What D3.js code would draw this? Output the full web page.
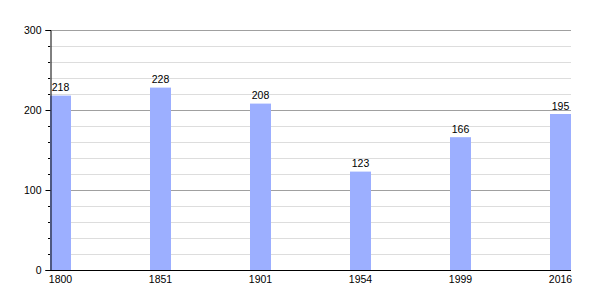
<!DOCTYPE html>
<html>
<head>
<meta charset="utf-8">
<script src="https://cdn.jsdelivr.net/npm/d3@7"></script>
<style>
  body { margin: 0; background: #fff; }
  text { font-family: "Liberation Sans", Arial, sans-serif; }
</style>
</head>
<body>
<div id="chart"></div>
<script>
const years = ["1800", "1851", "1901", "1954", "1999", "2016"];
const population = [218, 228, 208, 123, 166, 195];
const majorTicks = [0, 100, 200, 300];
const minorTicks = d3.range(0, 301, 20);

const width = 600, height = 300;
const plotLeft = 50, plotRight = 571, plotTop = 30, plotBottom = 270;
const barWidth = 21;

const svg = d3.select("#chart")
  .append("svg")
  .attr("width", width)
  .attr("height", height);

const x = d3.scalePoint()
  .domain(years)
  .range([plotLeft, plotRight - barWidth]);

const y = d3.scaleLinear()
  .domain([0, 300])
  .range([plotBottom, plotTop]);

// minor gridlines
svg.append("g")
  .selectAll("line")
  .data(minorTicks.filter(d => d % 100 !== 0))
  .join("line")
  .attr("x1", plotLeft).attr("x2", plotRight)
  .attr("y1", d => y(d) + 0.5).attr("y2", d => y(d) + 0.5)
  .attr("stroke", "#dddddd");

// major gridlines
svg.append("g")
  .selectAll("line")
  .data(majorTicks.filter(d => d > 0))
  .join("line")
  .attr("x1", plotLeft).attr("x2", plotRight)
  .attr("y1", d => y(d) + 0.5).attr("y2", d => y(d) + 0.5)
  .attr("stroke", "#a0a0a0");

// bars
svg.append("g")
  .selectAll("rect")
  .data(years)
  .join("rect")
  .attr("x", d => x(d))
  .attr("y", (d, i) => y(population[i]))
  .attr("width", barWidth)
  .attr("height", (d, i) => plotBottom - y(population[i]))
  .attr("fill", "#9cafff");

// value labels
svg.append("g")
  .selectAll("text")
  .data(years)
  .join("text")
  .attr("x", d => x(d) + barWidth / 2)
  .attr("y", (d, i) => y(population[i]) - 4.5)
  .attr("text-anchor", "middle")
  .style("font-size", "10.5px")
  .text((d, i) => population[i]);

// y axis
const yAxis = svg.append("g")
  .attr("transform", `translate(${plotLeft + 0.5},0)`)
  .call(d3.axisLeft(y).tickValues(majorTicks).tickSize(5).tickPadding(4));
yAxis.select(".domain").attr("stroke", "#000");
yAxis.selectAll("text").style("font-size", "10.5px").attr("fill", "#000");

svg.append("g")
  .selectAll("line")
  .data(minorTicks.filter(d => d % 100 !== 0))
  .join("line")
  .attr("x1", plotLeft - 2).attr("x2", plotLeft)
  .attr("y1", d => y(d) + 0.5).attr("y2", d => y(d) + 0.5)
  .attr("stroke", "#000");

// x axis line
svg.append("line")
  .attr("x1", plotLeft).attr("x2", plotRight)
  .attr("y1", plotBottom + 0.5).attr("y2", plotBottom + 0.5)
  .attr("stroke", "#000");

// year labels
svg.append("g")
  .selectAll("text")
  .data(years)
  .join("text")
  .attr("x", d => x(d) + barWidth / 2)
  .attr("y", plotBottom + 12.5)
  .attr("text-anchor", "middle")
  .style("font-size", "10.5px")
  .text(d => d);
</script>
</body>
</html>
